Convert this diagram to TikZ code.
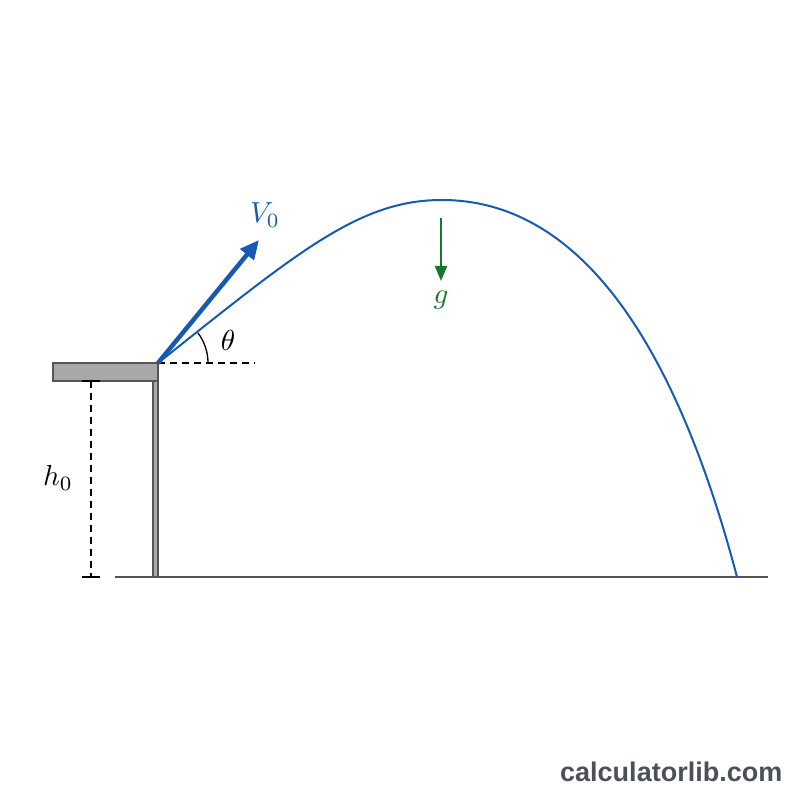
\documentclass[tikz,border=0pt]{standalone}
\usepackage{fontspec}
\newfontfamily\wmfont{Liberation Sans}
\usetikzlibrary{arrows.meta}
\definecolor{trajblue}{RGB}{22,90,180}
\definecolor{gravgreen}{RGB}{22,120,45}
\definecolor{wallgray}{RGB}{168,168,168}
\definecolor{edgegray}{RGB}{85,85,85}
\definecolor{markgray}{RGB}{75,80,90}

\begin{document}
\begin{tikzpicture}[x=1pt, y=1pt,
    lbl/.style={scale=2.9, inner sep=0pt},
    dim/.style={dashed, line width=1.3pt, dash pattern=on 7pt off 5pt}]
    \useasboundingbox (0, 0) rectangle (800, 800);
    \coordinate (launch) at (158, 437);
    \coordinate (peak) at (442, 600);
    \coordinate (land) at (737, 223);
    \coordinate (vtip) at (259, 560);
    \coordinate (horiz) at (255, 437);
    % table and ground
    \draw[edgegray, line width=1.5pt, fill=wallgray](53, 419)rectangle(158, 437);
    \draw[edgegray, line width=1.2pt, fill=wallgray](153, 223)rectangle(158, 419);
    \coordinate (gl) at (115, 223);
    \coordinate (gr) at (768, 223);
    \draw[edgegray, line width=2pt](gl)--(gr);
    % height
    \coordinate (htop) at (91, 419);
    \coordinate (hbot) at (91, 223);
    \draw[dim](htop)--(hbot);
    \draw[line width=1.3pt](82, 419)--(100, 419);
    \draw[line width=1.3pt](82, 223)--(100, 223);
    \node[lbl] (h0) at (58, 322) {$h_0$};
    % angle
    \draw[dim](launch)--(horiz);
    \draw[line width=1.3pt](208, 437) arc[start angle=0, end angle=37, radius=50];
    \node[lbl] (theta) at (228, 460) {$\theta$};
    % path and launch velocity
    \draw[trajblue, line width=2pt](launch) .. controls (300, 550) and (360, 600) .. (peak)
        .. controls (548, 600) and (660, 515) .. (land);
    \draw[trajblue, line width=4.5pt, -{Triangle[length=19pt, width=17pt]}](launch)--(vtip);
    \node[lbl, trajblue] (v0) at (265, 585) {$V_0$};
    % gravity
    \coordinate (gtop) at (441, 582);
    \coordinate (gbot) at (441, 519);
    \draw[gravgreen, line width=2pt, -{Triangle[length=15pt, width=12pt]}](gtop)--(gbot);
    \node[lbl, gravgreen] (g) at (441, 500) {$g$};
    \node[anchor=base west, inner sep=0pt, text=markgray, font=\wmfont\bfseries\fontsize{27}{32}\selectfont] (mark) at (560, 18) {calculatorlib.com};
\end{tikzpicture}
\end{document}
